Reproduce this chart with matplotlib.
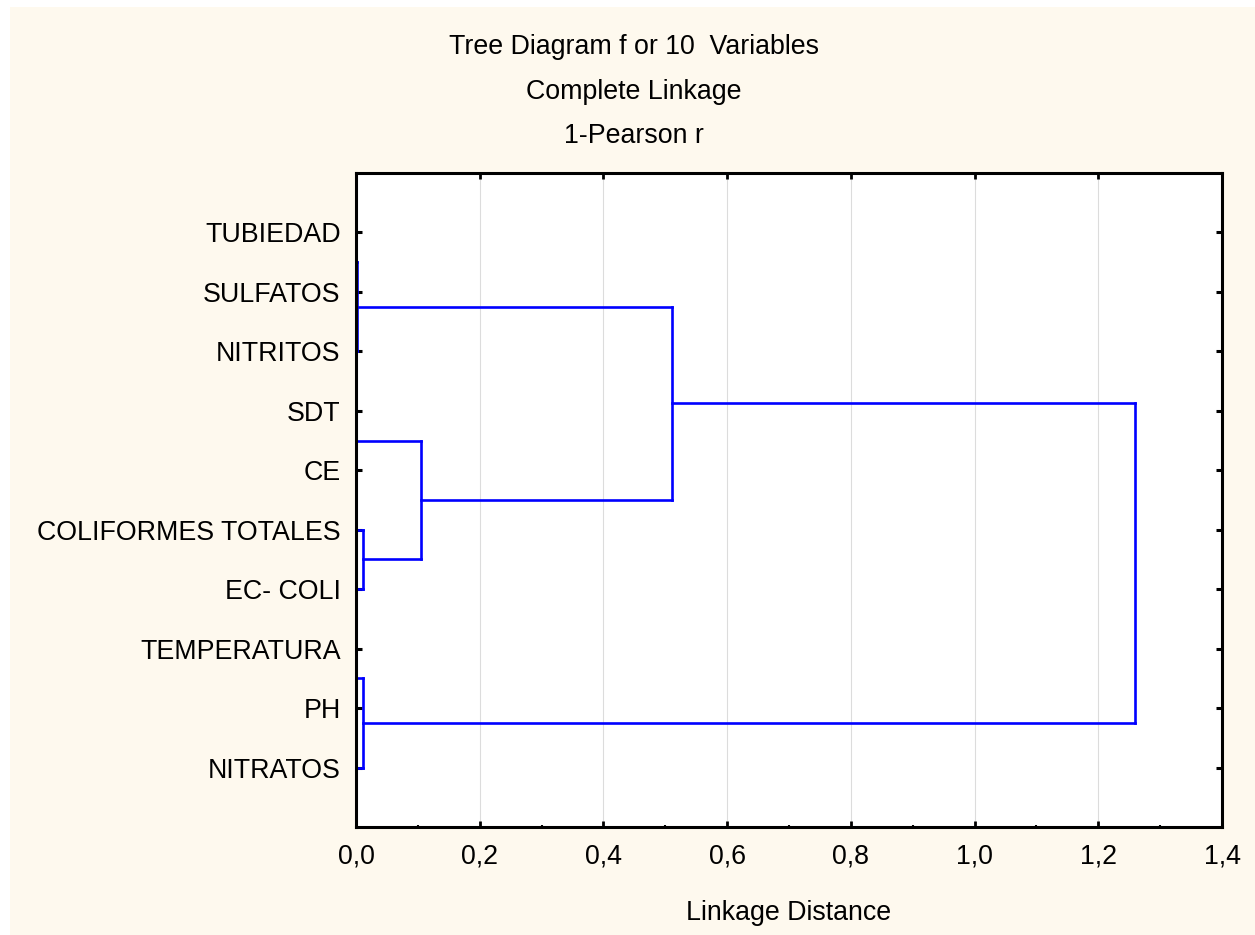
import numpy as np
import matplotlib.pyplot as plt
from matplotlib.patches import Rectangle

plt.rcParams['font.family'] = ['Liberation Sans', 'DejaVu Sans']

# leaves, top to bottom
variables = ['TUBIEDAD', 'SULFATOS', 'NITRITOS', 'SDT', 'CE',
             'COLIFORMES TOTALES', 'EC- COLI', 'TEMPERATURA', 'PH', 'NITRATOS']
# merges: node a + node b at linkage distance; new clusters numbered from 10
merge_a = [0, 10, 3, 5, 12, 11, 7, 16, 15]
merge_b = [1, 2, 4, 6, 13, 14, 8, 9, 17]
merge_dist = [0.0, 0.002, 0.0, 0.011, 0.105, 0.511, 0.0, 0.012, 1.259]
x_ticks = [0.0, 0.2, 0.4, 0.6, 0.8, 1.0, 1.2, 1.4]
x_labels = ['0,0', '0,2', '0,4', '0,6', '0,8', '1,0', '1,2', '1,4']

W, H = 1255, 935
fig = plt.figure(figsize=(W / 100, H / 100), dpi=100, facecolor='white')
fig.patches.append(Rectangle((10 / W, 0), 1 - 10 / W, 1 - 7 / H,
                             transform=fig.transFigure, facecolor='#FEF9EE',
                             edgecolor='none', zorder=-10))

ax = fig.add_axes([356 / W, 1 - 827 / H, (1222 - 356) / W, (827 - 173) / H])
ax.set_facecolor('white')

n = len(variables)
pos = {i: i + 1 for i in range(n)}
height = {i: 0.0 for i in range(n)}
for k, (a, b, d) in enumerate(zip(merge_a, merge_b, merge_dist)):
    ya, yb = pos[a], pos[b]
    ax.plot([height[a], d], [ya, ya], color='#0000FF', lw=1.9, solid_capstyle='projecting')
    ax.plot([height[b], d], [yb, yb], color='#0000FF', lw=1.9, solid_capstyle='projecting')
    ax.plot([d, d], [ya, yb], color='#0000FF', lw=1.9, solid_capstyle='projecting')
    pos[n + k] = (ya + yb) / 2
    height[n + k] = d

ax.set_xlim(0, 1.4)
ax.set_ylim(n + 1, 0)
ax.set_xticks(x_ticks)
ax.set_xticklabels(x_labels, fontsize=19.3)
ax.set_xticks(np.array(x_ticks[:-1]) + 0.1, minor=True)
ax.set_yticks(range(1, n + 1))
ax.set_yticklabels(variables, fontsize=19.3)
ax.tick_params(axis='x', which='major', direction='in', length=4, width=2,
               top=True, pad=12)
ax.tick_params(axis='x', which='minor', direction='in', length=1.5, width=1.5,
               top=True)
ax.tick_params(axis='y', direction='in', length=4, width=2.2, right=True, pad=11)
ax.grid(axis='x', color='#DCDCDC', lw=0.8)
ax.set_axisbelow(True)
for s in ax.spines.values():
    s.set_linewidth(2.2)

fig.text(634 / W, 1 - 47 / H, 'Tree Diagram f or 10  Variables', ha='center', va='center', fontsize=19.3)
fig.text(634 / W, 1 - 92 / H, 'Complete Linkage', ha='center', va='center', fontsize=19.3)
fig.text(634 / W, 1 - 136 / H, '1-Pearson r', ha='center', va='center', fontsize=19.3)
fig.text(789 / W, 1 - 913 / H, 'Linkage Distance', ha='center', va='center', fontsize=19.3)

fig.savefig('out.png', dpi=100, facecolor=fig.get_facecolor())
